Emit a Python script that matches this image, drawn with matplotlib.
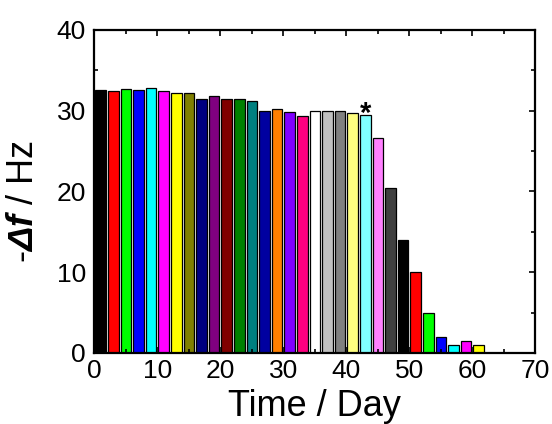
import matplotlib.pyplot as plt
from matplotlib.ticker import MultipleLocator

plt.rcParams['font.family'] = ['Liberation Sans', 'DejaVu Sans']
plt.rcParams['mathtext.fontset'] = 'custom'
plt.rcParams['mathtext.rm'] = 'Liberation Sans'
plt.rcParams['mathtext.it'] = 'Liberation Sans:italic'
plt.rcParams['mathtext.bf'] = 'Liberation Sans:bold:italic'

# day (bar centre) and frequency shift
days = list(range(1, 62, 2))
shift = [32.5, 32.4, 32.7, 32.6, 32.8, 32.4, 32.2, 32.2, 31.4, 31.8,
         31.5, 31.4, 31.2, 30.0, 30.2, 29.8, 29.4, 29.9, 30.0, 29.9,
         29.7, 29.5, 26.6, 20.4, 14.0, 10.0, 5.0, 2.0, 1.0, 1.5, 1.0]
colors = ['#000000', '#ff0000', '#00ff00', '#0000ff', '#00ffff', '#ff00ff',
          '#ffff00', '#808000', '#000080', '#800080', '#800000', '#008000',
          '#008080', '#0000a0', '#ff8000', '#8000ff', '#ff0080', '#ffffff',
          '#c0c0c0', '#808080', '#ffff80', '#80ffff', '#ff80ff', '#404040',
          '#000000', '#ff0000', '#00ff00', '#0000ff', '#00ffff', '#ff00ff',
          '#ffff00']
star_day = 43

fig = plt.figure(figsize=(5.52, 4.24), dpi=100)
ax = fig.add_axes([0.171, 0.1675, 0.799, 0.762])
ax.bar(days, shift, width=1.7, color=colors, edgecolor='black', linewidth=0.9)
ax.text(star_day, shift[days.index(star_day)] - 0.9, '*', ha='center',
        va='baseline', fontsize=21, fontweight='bold')

ax.set_xlim(0, 70)
ax.set_ylim(0, 40)
ax.xaxis.set_major_locator(MultipleLocator(10))
ax.xaxis.set_minor_locator(MultipleLocator(5))
ax.yaxis.set_major_locator(MultipleLocator(10))
ax.yaxis.set_minor_locator(MultipleLocator(5))
ax.tick_params(which='both', direction='in', top=True, right=True,
               labelsize=19, width=1.2)
ax.tick_params(which='major', length=4)
ax.tick_params(axis='y', pad=6)
ax.tick_params(axis='x', pad=4)
ax.tick_params(which='minor', length=3)
for s in ax.spines.values():
    s.set_linewidth(1.6)

ax.set_xlabel('Time / Day', fontsize=26)
ax.xaxis.set_label_coords(0.5, -0.11)
ax.set_ylabel(r'-$\mathbf{\Delta f}$ / Hz', fontsize=26)
ax.yaxis.set_label_coords(-0.12, 0.47)

fig.savefig('out.png', dpi=100)
